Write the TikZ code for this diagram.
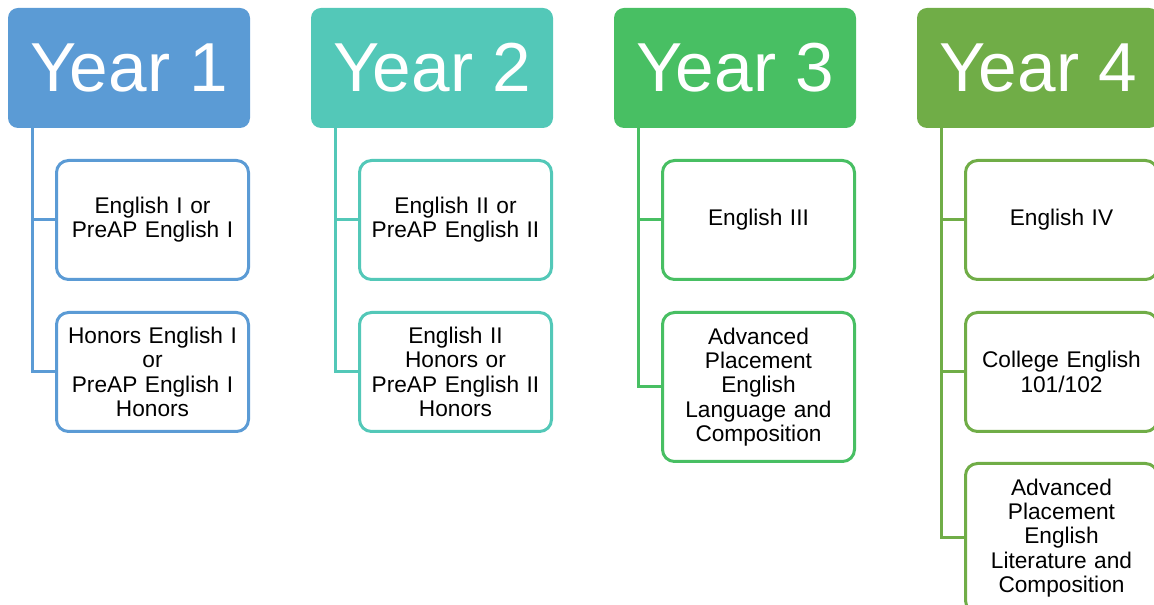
\documentclass[tikz,border=0pt]{standalone}
\usepackage{fontspec}
\setmainfont{Liberation Sans}
\usepackage{tikz}
\usetikzlibrary{positioning}
\usepackage{xcolor}
\definecolor{yone}{HTML}{5B9BD5}
\definecolor{ytwo}{HTML}{53C8B8}
\definecolor{ythree}{HTML}{48BF63}
\definecolor{yfour}{HTML}{70AD47}

\begin{document}
\begin{tikzpicture}[x=0.75pt,y=-0.75pt,
    year/.style={fill=#1,rounded corners=7.5pt,text=white,inner sep=0pt,outer sep=0pt,
      minimum width=181.5pt,minimum height=90pt,font=\fontsize{52}{60}\selectfont},
    course/.style={draw=#1,fill=white,line width=2.25pt,rounded corners=9pt,inner sep=0pt,outer sep=0pt,
      minimum width=144pt,minimum height=89.25pt,text width=140pt,align=center,
      font=\fontsize{17}{18.2}\selectfont},
    tall/.style={minimum height=111.75pt},
    link/.style={draw=#1,line width=2.25pt}]
  \useasboundingbox (0,0) rectangle (1154,605);
  \clip (0,0) rectangle (1154,605);

  \node[year=yone] (y1) at (129,68) {Year 1};
  \node[course=yone] (c11) [below right=24.375pt and 36.375pt of y1.south west] {English I or\\PreAP English I};
  \node[course=yone] (c12) [below=24.75pt of c11] {Honors English I\\or\\PreAP English I\\Honors};
  \draw[link=yone] ([xshift=18pt]y1.south west) |- (c12.west)
                   ([xshift=18pt]y1.south west) |- (c11.west);

  \node[year=ytwo] (y2) at (432,68) {Year 2};
  \node[course=ytwo] (c21) [below right=24.375pt and 36.375pt of y2.south west] {English II or\\PreAP English II};
  \node[course=ytwo] (c22) [below=24.75pt of c21] {English II\\Honors or\\PreAP English II\\Honors};
  \draw[link=ytwo] ([xshift=18pt]y2.south west) |- (c22.west)
                   ([xshift=18pt]y2.south west) |- (c21.west);

  \node[year=ythree] (y3) at (735,68) {Year 3};
  \node[course=ythree] (c31) [below right=24.375pt and 36.375pt of y3.south west] {English III};
  \node[course=ythree,tall] (c32) [below=24.75pt of c31] {Advanced\\Placement\\English\\Language and\\Composition};
  \draw[link=ythree] ([xshift=18pt]y3.south west) |- (c32.west)
                     ([xshift=18pt]y3.south west) |- (c31.west);

  \node[year=yfour] (y4) at (1038,68) {Year 4};
  \node[course=yfour] (c41) [below right=24.375pt and 36.375pt of y4.south west] {English IV};
  \node[course=yfour] (c42) [below=24.75pt of c41] {College English\\101/102};
  \node[course=yfour,tall] (c43) [below=24pt of c42] {Advanced\\Placement\\English\\Literature and\\Composition};
  \draw[link=yfour] ([xshift=18pt]y4.south west) |- (c43.west)
                    ([xshift=18pt]y4.south west) |- (c42.west)
                    ([xshift=18pt]y4.south west) |- (c41.west);
\end{tikzpicture}
\end{document}
